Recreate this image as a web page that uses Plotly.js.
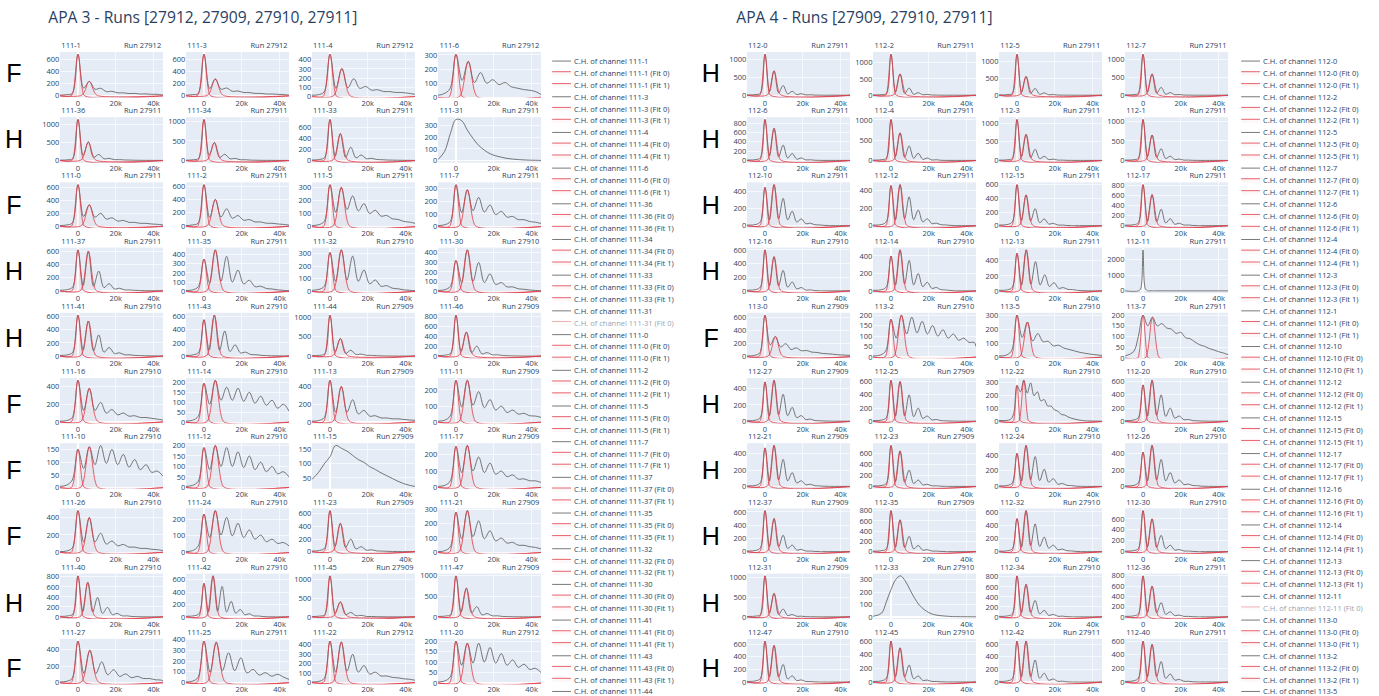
<!DOCTYPE html>
<html>
<head>
<meta charset="utf-8">
<script src="https://cdn.plot.ly/plotly-3.0.1.min.js"></script>
<style>
html,body{margin:0;padding:0;background:#fff;width:1379px;height:696px;overflow:hidden;}
#wrap{position:absolute;left:0;top:0;transform-origin:0 0;}
</style>
</head>
<body>
<div id="wrap"><div id="chart"></div></div>
<script>
// ---------------- DATA ----------------
const apa3Title = 'APA 3 - Runs [27912, 27909, 27910, 27911]';
const apa3Channels = ['111-1','111-3','111-4','111-6','111-36','111-34','111-33','111-31','111-0','111-2','111-5','111-7','111-37','111-35','111-32','111-30','111-41','111-43','111-44','111-46','111-16','111-14','111-13','111-11','111-10','111-12','111-15','111-17','111-26','111-24','111-23','111-21','111-40','111-42','111-45','111-47','111-27','111-25','111-22','111-20'];
const apa3Runs = [27912,27912,27912,27912, 27911,27911,27911,27911, 27911,27911,27911,27911, 27911,27911,27910,27910, 27910,27910,27909,27909, 27910,27910,27909,27909, 27910,27910,27909,27909, 27910,27910,27909,27909, 27910,27910,27909,27909, 27911,27911,27912,27912];
const apa3RowLetters = ['F','H','F','H','H','F','F','F','H','F'];
const apa3NoFit = ['111-31','111-15'];
// peak spacing (gain) of each channel, in thousands of charge units
const apa3Gain = [6.0,6.0,6.3,6.5, 5.5,5.5,5.5,6.0, 6.0,6.0,6.0,6.0, 5.5,6.0,6.0,6.0, 5.5,5.5,5.5,5.5, 6.0,6.0,6.0,6.0, 6.0,6.0,6.0,6.0, 6.0,6.0,5.5,6.0, 5.2,4.8,5.5,5.5, 6.3,6.5,6.0,6.0];
// histogram heights read at x = -gain, -gain/2, 0, gain/2, gain, ... (peaks and valleys)
const apa3Spectra = [
 [20,40,690,130,240,110,125,70,75,50,50,38,40,30,32,25,25],
 [20,40,690,120,280,110,130,75,80,55,55,40,40,30,30,25,22],
 [20,50,460,90,305,95,195,90,110,70,75,55,55,45,45,38],
 [25,60,305,120,255,105,175,100,125,90,105,75,65,55,50,40,30],
 [20,60,1150,150,520,90,170,50,60,25,25,15,12,8,6,5,4,3],
 [20,60,1050,140,460,80,160,45,55,20,20,10,8,5,5,4,3,3],
 [20,60,740,80,485,60,240,50,100,35,40,20,15,10,8,6,5],
 [80,230,350,340,260,190,130,90,60,42,30,20,14,10,7,5,4],
 [20,50,640,150,330,140,200,110,130,80,90,60,60,45,45,35,30],
 [20,50,620,130,400,140,260,120,160,90,100,65,65,45,45,35,28],
 [15,40,320,110,300,130,235,120,175,100,125,80,85,60,55,40,35],
 [15,40,330,110,290,125,230,115,170,95,120,75,80,55,55,40,35],
 [20,60,620,80,600,70,300,50,110,30,40,15,15,8,6,4,3,3,2],
 [15,50,350,90,450,110,380,100,230,80,120,50,55,30,25,15,10],
 [15,40,310,80,330,90,280,80,170,60,90,40,45,25,20,12,8],
 [15,50,320,90,430,100,300,90,180,70,90,45,45,25,20,12,8],
 [20,60,620,90,530,80,320,60,130,40,50,20,20,10,8,5,4,3,2],
 [20,60,550,90,620,90,380,70,170,50,60,25,22,12,8,5,4,3,2],
 [20,60,1050,120,450,70,150,40,50,20,18,10,6,4,3,2,2,2,2],
 [20,60,820,100,480,70,200,45,70,25,25,12,8,5,4,3,2,2,2],
 [15,50,470,130,380,130,220,100,140,80,100,65,70,50,50,40,32],
 [10,30,195,90,210,110,175,110,170,105,150,95,130,85,110,70,90],
 [15,50,470,110,400,110,250,90,130,65,70,45,45,35,35,28,22],
 [12,40,260,95,260,105,190,90,140,75,100,60,75,50,55,40,38],
 [10,30,150,75,160,90,165,95,150,90,130,80,110,70,90,60,65],
 [10,30,190,85,200,100,190,100,170,95,150,85,120,75,100,65,75],
 [70,100,125,165,155,145,130,115,105,90,80,68,58,48,38,30,24],
 [12,40,250,90,255,100,185,90,148,80,100,65,76,50,52,40,40],
 [15,50,480,120,400,120,220,95,130,75,90,60,60,45,45,35,30],
 [12,40,230,90,250,105,210,100,175,90,135,80,105,65,80,55,60],
 [20,60,650,90,450,70,200,45,80,25,30,12,10,6,4,3,2,2,2],
 [12,40,280,95,290,110,220,95,150,80,100,65,70,50,50,40,35],
 [20,60,820,110,690,100,390,70,190,45,70,20,20,8,5,3,2,2,2,2],
 [20,60,540,80,660,90,490,80,250,60,120,35,50,15,15,6,3,2,2,2,2],
 [20,60,1100,110,400,60,120,30,40,12,10,5,3,2,2,2,2,2,2],
 [20,60,1000,120,700,100,250,50,80,25,25,10,6,4,3,2,2,2,2],
 [15,50,500,110,390,110,250,95,155,75,105,60,75,50,50,35,30],
 [12,45,385,95,375,110,277,110,230,90,123,70,92,60,77,50],
 [12,45,440,110,430,120,300,110,180,90,110,70,70,55,50,40,35],
 [10,30,200,85,190,95,190,100,170,95,140,85,110,75,90,65,70]
];
// histogram level at the left (-9.5k) and right (45k) edges
const apa3Ends = [[10,12],[10,10],[15,25],[15,20],[10,3],[10,3],[10,3],[10,3],[10,20],[10,18],[8,25],[8,25],[10,2],[8,5],[8,4],[8,4],[10,2],[10,2],[10,2],[10,2],[8,20],[5,55],[8,18],[6,30],[5,45],[5,50],[45,20],[6,30],[8,20],[6,40],[10,2],[6,25],[10,2],[10,2],[10,2],[10,2],[8,20],[6,30],[6,25],[5,50]];

const apa4Title = 'APA 4 - Runs [27909, 27910, 27911]';
const apa4Channels = ['112-0','112-2','112-5','112-7','112-6','112-4','112-3','112-1','112-10','112-12','112-15','112-17','112-16','112-14','112-13','112-11','113-0','113-2','113-5','113-7','112-27','112-25','112-22','112-20','112-21','112-23','112-24','112-26','112-37','112-35','112-32','112-30','112-31','112-33','112-34','112-36','112-47','112-45','112-42','112-40'];
const apa4Runs = [27911,27911,27911,27911, 27911,27911,27911,27911, 27911,27911,27911,27911, 27910,27910,27911,27911, 27909,27910,27910,27911, 27909,27909,27910,27910, 27909,27909,27910,27910, 27909,27909,27910,27910, 27909,27910,27910,27911, 27910,27910,27911,27911];
const apa4RowLetters = ['H','H','H','H','F','H','H','H','H','H'];
const apa4NoFit = ['112-11','112-33'];
const apa4Gain = [4.8,4.8,4.8,4.8, 4.8,4.8,4.8,4.8, 4.8,4.8,4.8,4.8, 4.8,4.8,4.9,2.4, 5.5,5.5,5.5,5.0, 4.8,4.8,3.6,4.8, 4.8,4.8,4.8,4.8, 4.8,4.8,4.8,4.8, 4.8,5.0,4.8,4.8, 4.8,4.8,4.8,4.8];
const apa4Spectra = [
 [20,60,1140,100,680,70,270,40,110,20,45,10,15,5,3,2,2,2,2,2,2],
 [20,60,1250,100,650,60,220,30,80,15,25,8,5,3,2,2,2],
 [20,60,1200,90,550,60,200,30,70,15,20,6,4,3,2,2,2],
 [20,60,1150,90,600,60,220,30,75,15,22,6,4,3,2,2,2],
 [20,60,880,100,690,80,330,55,150,30,55,12,15,5,3,2,2,2],
 [20,60,1010,100,680,80,360,55,180,30,60,12,18,5,3,2,2,2],
 [20,60,1100,100,700,80,300,50,110,25,35,10,10,4,3,2,2],
 [20,60,1050,100,650,80,300,50,110,25,35,10,10,4,3,2,2],
 [15,50,450,70,480,80,320,70,170,45,80,25,30,12,10,5,3,2],
 [15,50,460,70,470,80,330,70,180,45,80,25,30,12,10,5,3,2],
 [20,60,600,80,450,70,250,45,100,25,35,10,10,4,3,2],
 [20,60,820,90,620,80,330,55,140,30,50,12,15,5,3,2],
 [20,60,600,80,500,75,300,55,130,30,50,12,15,5,3,2],
 [15,50,400,70,470,80,350,70,200,50,100,30,40,15,12,6,3,2],
 [15,50,500,80,545,90,390,80,215,60,110,35,45,20,18,8,5,3,2],
 [5,150,2600,150,5,3,2,2],
 [20,60,640,180,310,150,200,110,135,90,95,70,65,50,45,38,30],
 [10,30,180,90,200,110,190,115,170,110,150,100,130,90,110,80,90,70,70],
 [15,50,300,140,250,115,168,110,113,80,85,65,55,45,35,28,22],
 [30,100,200,150,190,150,160,140,135,115,120,95,90,75,62,55,45,38,30,24],
 [15,50,480,70,500,80,330,70,170,45,70,22,28,10,8,4,3,2],
 [20,60,620,80,600,80,400,70,200,45,80,22,28,10,8,4,3,2],
 [15,60,280,230,320,220,300,200,230,160,170,120,120,90,80,55,50,35,25,18,12,8,5],
 [20,60,550,80,620,90,400,75,200,50,80,25,28,10,8,4,3,2],
 [15,50,470,70,500,80,330,70,170,45,70,22,28,10,8,4,3,2],
 [20,60,750,90,650,80,300,55,120,30,40,12,12,5,3,2],
 [15,50,420,70,520,85,380,75,220,55,100,30,40,15,12,5,3,2],
 [15,50,420,70,500,80,330,70,170,45,80,25,30,12,10,4,3,2],
 [20,60,620,80,500,75,250,50,100,25,35,10,10,4,3,2],
 [20,60,800,90,620,80,300,55,120,30,40,12,12,5,3,2],
 [15,50,500,70,620,90,420,80,220,55,100,30,40,15,12,5,3,2],
 [20,60,750,90,600,80,300,55,120,30,40,12,12,5,3,2],
 [20,60,1050,100,600,65,200,35,60,15,18,6,4,3,2],
 [30,120,220,300,330,290,220,150,95,60,35,20,12,8,5,3],
 [20,60,820,90,650,85,330,60,130,30,50,12,15,5,3,2],
 [20,60,800,90,600,80,280,50,100,25,35,10,10,4,3,2],
 [20,60,650,85,580,80,280,50,100,25,35,10,10,4,3,2],
 [20,60,600,80,500,75,250,50,90,25,30,10,10,4,3,2],
 [20,60,650,85,650,85,350,60,140,30,50,12,15,5,3,2],
 [20,60,600,80,550,80,300,55,120,30,40,12,12,5,3,2]
];
const apa4Ends = [[10,2],[10,2],[10,2],[10,2],[10,2],[10,2],[10,2],[10,2],[8,2],[8,2],[10,2],[10,2],[10,2],[8,2],[8,2],[3,1],[10,20],[5,50],[8,12],[10,16],[8,2],[10,2],[8,2],[10,2],[8,2],[10,2],[8,2],[8,2],[10,2],[10,2],[8,2],[10,2],[10,2],[5,1],[10,2],[10,2],[10,2],[10,2],[10,2],[10,2]];

// Gaussian fit shape, sampled at multiples of sigma
const fitOffsets = [-3,-2,-1.5,-1,-0.5,0,0.5,1,1.5,2,3];
const fitProfile = [0,0.135,0.325,0.607,0.882,1,0.882,0.607,0.325,0.135,0];
const fitWidth = [0.2, 0.27];

// ---------------- LAYOUT GEOMETRY (screen px) ----------------
const S = 0.626;
const SW = 1379, SH = 760;
const LW = SW / S, LH = SH / S;
const X_MIN = -9500, X_MAX = 45000;
const panelX0 = [60, 747];
const colPitch = 126, plotW = 103;
const rowTop0 = 52, rowPitch = 65.2, plotH = 45.5;
const titleX = [47, 735], titleY = 17;
const letterX = [14, 711], letterY0 = 73, letterPitch = 66.2;
const legendLeft = [549, 1238], legendTop = 52;
const LEGEND_ROWS = 57;

const FONT = '"Open Sans", verdana, arial, sans-serif';
const TXT = '#2a3f5f';
const HIST_COLOR = 'rgb(90,90,90)';
const FIT_COLOR = 'rgb(226,62,74)';
const FIT_FILL = 'rgba(235,90,100,0.05)';

const px = v => v / SW;
const py = v => 1 - v / SH;

const traces = [];
const layout = {
  width: LW, height: LH,
  margin: {l: 0, r: 0, t: 0, b: 0},
  paper_bgcolor: '#fff', plot_bgcolor: '#E5ECF6',
  font: {family: FONT, size: 12, color: TXT},
  showlegend: true,
  annotations: []
};

function spectrumXY(g, ys, ends) {
  const x = [X_MIN], y = [ends[0]];
  ys.forEach((v, j) => {
    const xv = (j / 2 - 1) * g * 1000;
    if (xv > X_MIN && xv < X_MAX) { x.push(xv); y.push(v); }
  });
  x.push(X_MAX); y.push(ends[1]);
  return {x, y};
}
function fitXY(center, amp, sigma) {
  const x = [X_MIN], y = [0];
  fitOffsets.forEach((o, k) => {
    const xv = center + o * sigma;
    if (xv > X_MIN && xv < X_MAX) { x.push(xv); y.push(amp * fitProfile[k]); }
  });
  x.push(X_MAX); y.push(0);
  return {x, y};
}

function buildPanel(p, title, channels, runs, letters, gains, spectra, ends, noFit) {
  const legendId = p === 0 ? 'legend' : 'legend2';
  let entry = 0;
  channels.forEach((ch, i) => {
    const r = Math.floor(i / 4), c = i % 4;
    const n = p * 40 + i + 1;
    const x0 = panelX0[p] + c * colPitch;
    const top = rowTop0 + r * rowPitch;
    layout['xaxis' + n] = {
      domain: [px(x0), px(x0 + plotW)], anchor: 'y' + n, range: [X_MIN, X_MAX],
      gridcolor: 'white', zerolinecolor: 'white', zerolinewidth: 2, linecolor: 'white',
      ticks: '', tickfont: {size: 12, color: TXT}, showline: false
    };
    layout['yaxis' + n] = {
      domain: [py(top + plotH), py(top)], anchor: 'x' + n,
      gridcolor: 'white', zerolinecolor: 'white', zerolinewidth: 2, linecolor: 'white',
      ticks: '', tickfont: {size: 12, color: TXT}, showline: false
    };
    const g = gains[i];
    const h = spectrumXY(g, spectra[i], ends[i]);
    const failed = noFit.indexOf(ch) >= 0;
    traces.push({
      type: 'scatter', mode: 'lines', x: h.x, y: h.y, xaxis: 'x' + n, yaxis: 'y' + n,
      name: 'C.H. of channel ' + ch, legend: legendId, showlegend: entry++ < LEGEND_ROWS,
      line: {color: HIST_COLOR, width: 1.3, shape: 'spline'}
    });
    const nFits = failed ? 1 : 2;
    for (let k = 0; k < nFits; k++) {
      const f = fitXY(k * g * 1000, spectra[i][2 + 2 * k], fitWidth[k] * g * 1000);
      traces.push({
        type: 'scatter', mode: 'lines', x: f.x, y: f.y, xaxis: 'x' + n, yaxis: 'y' + n,
        name: 'C.H. of channel ' + ch + ' (Fit ' + k + ')', legend: legendId,
        showlegend: entry++ < LEGEND_ROWS, visible: failed ? 'legendonly' : true,
        line: {color: FIT_COLOR, width: 1.3, shape: 'spline'},
        fill: 'tozeroy', fillcolor: FIT_FILL
      });
    }
    layout.annotations.push({
      text: ch, xref: 'paper', yref: 'paper', x: px(x0), y: py(top), xanchor: 'left', yanchor: 'bottom',
      showarrow: false, font: {size: 12, color: TXT}
    });
    layout.annotations.push({
      text: 'Run ' + runs[i], xref: 'paper', yref: 'paper', x: px(x0 + plotW), y: py(top), xanchor: 'right', yanchor: 'bottom',
      showarrow: false, font: {size: 12, color: TXT}
    });
  });
  letters.forEach((L, r) => {
    layout.annotations.push({
      text: L, xref: 'paper', yref: 'paper', x: px(letterX[p]), y: py(letterY0 + r * letterPitch),
      xanchor: 'center', yanchor: 'middle', showarrow: false,
      font: {family: '"Liberation Sans", Arial, sans-serif', size: 40, color: '#000'}
    });
  });
  layout.annotations.push({
    text: title, xref: 'paper', yref: 'paper', x: px(titleX[p]), y: py(titleY),
    xanchor: 'left', yanchor: 'middle', showarrow: false, font: {size: 25, color: TXT}
  });
  layout[legendId] = {
    x: px(legendLeft[p]), y: py(legendTop), xanchor: 'left', yanchor: 'top',
    bgcolor: 'rgba(0,0,0,0)', font: {size: 12, color: TXT}, tracegroupgap: 0
  };
}

buildPanel(0, apa3Title, apa3Channels, apa3Runs, apa3RowLetters, apa3Gain, apa3Spectra, apa3Ends, apa3NoFit);
buildPanel(1, apa4Title, apa4Channels, apa4Runs, apa4RowLetters, apa4Gain, apa4Spectra, apa4Ends, apa4NoFit);

document.getElementById('wrap').style.transform = 'scale(' + S + ')';
Plotly.newPlot('chart', traces, layout, {staticPlot: true, displayModeBar: false});
</script>
</body>
</html>
